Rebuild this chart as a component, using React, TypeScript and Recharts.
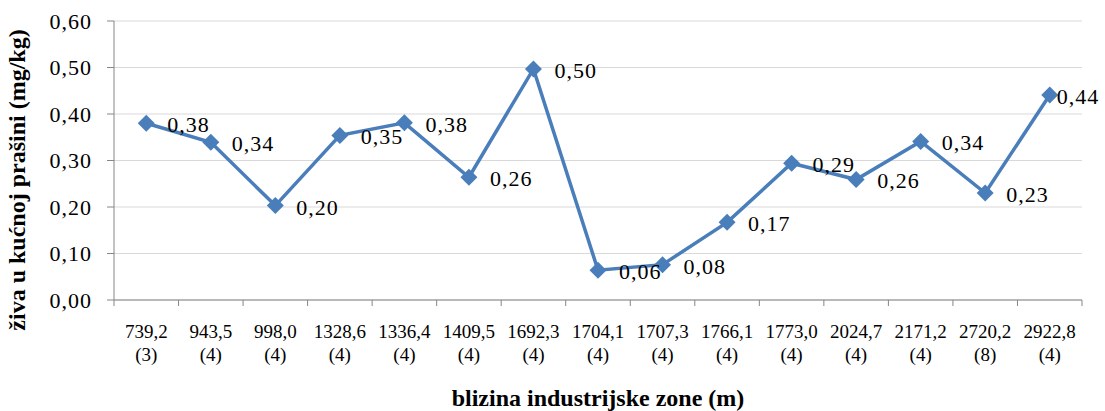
import React from "react";
import { LineChart, Line, XAxis, YAxis, CartesianGrid } from "recharts";

const distances = ["739,2", "943,5", "998,0", "1328,6", "1336,4", "1409,5", "1692,3", "1704,1", "1707,3", "1766,1", "1773,0", "2024,7", "2171,2", "2720,2", "2922,8"];
const counts = ["(3)", "(4)", "(4)", "(4)", "(4)", "(4)", "(4)", "(4)", "(4)", "(4)", "(4)", "(4)", "(4)", "(8)", "(4)"];
const mercury = [0.38, 0.339, 0.203, 0.354, 0.381, 0.264, 0.497, 0.064, 0.076, 0.167, 0.294, 0.259, 0.341, 0.23, 0.441];
const yTicks = [0, 0.1, 0.2, 0.3, 0.4, 0.5, 0.6];

const data = distances.map((d, i) => ({ key: String(i), dist: d, count: counts[i], value: mercury[i] }));

const W = 1105;
const H = 411;
const LEFT = 114;
const RIGHT_MARGIN = 23;
const TOP = 21;
const XAXIS_H = 111;
const BAND = (W - RIGHT_MARGIN - LEFT) / data.length;

const FONT = '"Liberation Serif", "Times New Roman", Times, serif';
const BLUE = "#4A7EBB";
const AXIS = "#868686";

const fmt = (v: number) => v.toFixed(2).replace(".", ",");

const serif = (size: number, extra: any = {}) => ({ fontFamily: FONT, fontSize: size, ...extra });

const XTick = (props: any) => {
  const { x, y, index } = props;
  const d = data[index];
  const last = index === data.length - 1;
  return (
    <g>
      <line x1={x - BAND / 2} x2={x - BAND / 2} y1={y} y2={y + 6} stroke={AXIS} strokeWidth={1} />
      {last && <line x1={x + BAND / 2} x2={x + BAND / 2} y1={y} y2={y + 6} stroke={AXIS} strokeWidth={1} />}
      <text x={x} y={y + 38} textAnchor="middle" style={serif(19)} fill="#000">{d.dist}</text>
      <text x={x} y={y + 61} textAnchor="middle" style={serif(19)} fill="#000">{d.count}</text>
    </g>
  );
};

const YTick = (props: any) => {
  const { y, payload } = props;
  return (
    <text x={LEFT - 22} y={y} dy="0.36em" textAnchor="end" style={serif(22, { letterSpacing: 1 })} fill="#000">
      {fmt(payload.value)}
    </text>
  );
};

const Diamond = (props: any) => {
  const { cx, cy } = props;
  if (cx == null || cy == null) return null;
  const r = 8.5;
  return <polygon points={`${cx},${cy - r} ${cx + r},${cy} ${cx},${cy + r} ${cx - r},${cy}`} fill={BLUE} stroke="none" />;
};

const ValueLabel = (props: any) => {
  const { x, y, value, index } = props;
  const last = index === data.length - 1;
  return (
    <text x={x + (last ? 7 : 21)} y={y + 1} dy="0.36em" textAnchor="start" style={serif(22, { letterSpacing: 1 })} fill="#000">
      {fmt(value)}
    </text>
  );
};

const YTitle = () => {
  const cx = 17;
  const cy = 180;
  return (
    <text x={cx} y={cy} dy="0.35em" transform={`rotate(-90, ${cx}, ${cy})`} textAnchor="middle" style={serif(24, { fontWeight: "bold" })} fill="#000">
      živa u kućnoj prašini (mg/kg)
    </text>
  );
};

const XTitle = (props: any) => {
  const vb = props.viewBox || {};
  const cx = vb.x + vb.width / 2;
  return (
    <text x={cx} y={406} textAnchor="middle" style={serif(24, { fontWeight: "bold" })} fill="#000">
      blizina industrijske zone (m)
    </text>
  );
};

export default function App() {
  return (
    <div style={{ position: "absolute", left: 0, top: 0, width: W, height: H, background: "#fff" }}>
      <LineChart width={W} height={H} data={data} margin={{ top: TOP, right: RIGHT_MARGIN, bottom: 0, left: 0 }}>
        <CartesianGrid vertical={false} stroke="#D9D9D9" strokeWidth={1} />
        <XAxis
          dataKey="key"
          type="category"
          interval={0}
          height={XAXIS_H}
          padding={{ left: BAND / 2, right: BAND / 2 }}
          tickLine={false}
          tickSize={0}
          tickMargin={0}
          axisLine={{ stroke: AXIS, strokeWidth: 1 }}
          tick={<XTick />}
          label={<XTitle />}
        />
        <YAxis
          width={LEFT}
          domain={[0, 0.6]}
          ticks={yTicks}
          interval={0}
          tickSize={7}
          tickMargin={15}
          axisLine={{ stroke: AXIS, strokeWidth: 1 }}
          tickLine={{ stroke: AXIS, strokeWidth: 1 }}
          tick={<YTick />}
          label={<YTitle />}
        />
        <Line
          dataKey="value"
          stroke={BLUE}
          strokeWidth={3.5}
          dot={<Diamond />}
          activeDot={false}
          label={<ValueLabel />}
          isAnimationActive={false}
        />
      </LineChart>
    </div>
  );
}
